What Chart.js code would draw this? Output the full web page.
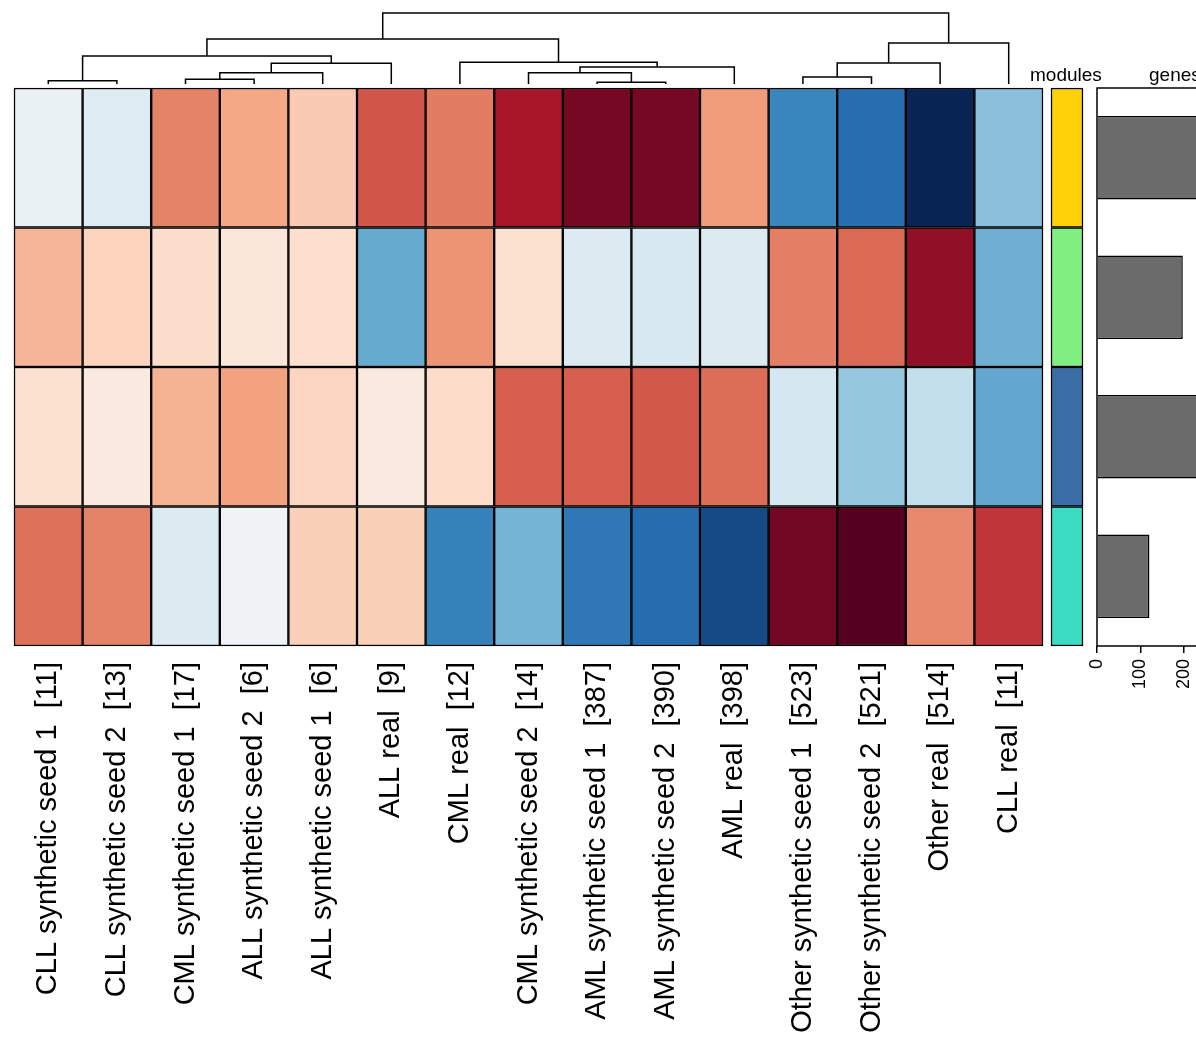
<!DOCTYPE html>
<html>
<head>
<meta charset="utf-8">
<script src="https://cdn.jsdelivr.net/npm/chart.js@4.4.1/dist/chart.umd.min.js"></script>
<style>
    html, body { margin: 0; padding: 0; background: #fff; overflow: hidden; width: 1196px; height: 1053px; }
    canvas { position: absolute; }
    .lbl { position: absolute; font-family: "Liberation Sans", Arial, sans-serif; font-size: 19px; line-height: 19px; color: #000; white-space: nowrap; }
</style>
</head>
<body>
<canvas id="dendro" width="1037" height="88" style="left:10px;top:0px"></canvas>
<canvas id="heat" width="1037" height="969" style="left:10px;top:84px"></canvas>
<canvas id="modules" width="40" height="566" style="left:1047px;top:84px"></canvas>
<canvas id="genes" width="180" height="630" style="left:1077px;top:84px"></canvas>
<div class="lbl" style="left:1030px;top:65px">modules</div>
<div class="lbl" style="left:1149px;top:65px">genes</div>
<script>
// columns in dendrogram order
const sampleNames = [
    "CLL synthetic seed 1", "CLL synthetic seed 2", "CML synthetic seed 1",
    "ALL synthetic seed 2", "ALL synthetic seed 1", "ALL real", "CML real",
    "CML synthetic seed 2", "AML synthetic seed 1", "AML synthetic seed 2",
    "AML real", "Other synthetic seed 1", "Other synthetic seed 2",
    "Other real", "CLL real",
];
const sampleSizes = [11, 13, 17, 6, 6, 9, 12, 14, 387, 390, 398, 523, 521, 514, 11];

// module eigengene values per row (-1 blue .. +1 red)
const module1 = [-0.07, -0.13, 0.5, 0.39, 0.26, 0.63, 0.52, 0.82, 0.93, 0.93, 0.43, -0.66, -0.76, -0.99, -0.42];
const module2 = [0.34, 0.23, 0.18, 0.12, 0.17, -0.51, 0.45, 0.16, -0.14, -0.17, -0.14, 0.51, 0.57, 0.87, -0.49];
const module3 = [0.16, 0.1, 0.35, 0.41, 0.22, 0.1, 0.19, 0.6, 0.6, 0.62, 0.56, -0.18, -0.39, -0.24, -0.52];
const module4 = [0.55, 0.5, -0.14, -0.04, 0.24, 0.24, -0.68, -0.47, -0.72, -0.77, -0.88, 0.94, 1.0, 0.48, 0.72];

const moduleNames = ["gold", "lightgreen", "steelblue", "turquoise"];
const moduleColors = ["#FFD108", "#80EE80", "#3A6CA6", "#3CDCC4"];
const geneCounts = [330, 198, 350, 121];
const geneTicks = [0, 100, 200, 300];

// hclust-style merges: negative = leaf (1-based), positive = earlier merge; height
const merges = [
    [-1, -2, 3.3], [-3, -4, 4.7], [2, -5, 11.3], [3, -6, 20.7], [1, 4, 28],
    [-9, -10, 1.7], [-8, 6, 11.3], [7, -11, 17], [-7, 8, 21.7], [5, 9, 45],
    [-12, -13, 7], [11, -14, 21], [12, -15, 41], [10, 13, 71],
];

const FONT = "'Liberation Sans', Arial, Helvetica, sans-serif";

const paletteStops = [
    [-1.0, "#062050"], [-0.8, "#2166AC"], [-0.6, "#4393C3"], [-0.4, "#92C5DE"], [-0.2, "#D1E5F0"],
    [0, "#F7F7F7"], [0.2, "#FDDBC7"], [0.4, "#F4A582"], [0.6, "#D6604D"], [0.8, "#B2182B"], [1.0, "#560020"],
];

function hexToRgb(h) {
    return [1, 3, 5].map((i) => parseInt(h.slice(i, i + 2), 16));
}

function rdbu(v) {
    v = Math.max(-1, Math.min(1, v));
    for (let i = 1; i < paletteStops.length; i++) {
        const [v1, c1] = paletteStops[i];
        if (v <= v1) {
            const [v0, c0] = paletteStops[i - 1];
            const t = (v - v0) / (v1 - v0);
            const a = hexToRgb(c0), b = hexToRgb(c1);
            const rgb = a.map((x, k) => Math.round(x + (b[k] - x) * t));
            return `rgb(${rgb.join(",")})`;
        }
    }
    return paletteStops[paletteStops.length - 1][1];
}

const moduleRows = [module1, module2, module3, module4];
const sampleLabels = sampleNames.map((n, i) => `${n}  [${sampleSizes[i]}]`);

function noPad(scale) {
    scale.paddingLeft = 0;
    scale.paddingRight = 0;
}

// dendrogram
const dendroSets = [];
const nodePos = [];
merges.forEach(([a, b, h]) => {
    const node = (id) => (id < 0 ? { x: -id - 1, y: 0 } : nodePos[id - 1]);
    const L = node(a), R = node(b);
    dendroSets.push({
        data: [{ x: L.x, y: L.y }, { x: L.x, y: h }, { x: R.x, y: h }, { x: R.x, y: R.y }],
        showLine: true,
        borderColor: "#000",
        borderWidth: 1.5,
        pointRadius: 0,
        clip: false,
    });
    nodePos.push({ x: (L.x + R.x) / 2, y: h });
});

new Chart(document.getElementById("dendro"), {
    type: "scatter",
    data: { datasets: dendroSets },
    options: {
        responsive: false,
        animation: false,
        layout: { padding: { left: 4, right: 4, top: 13, bottom: 4 } },
        plugins: { legend: { display: false }, tooltip: { enabled: false } },
        scales: {
            x: { display: false, min: -0.5, max: 14.5 },
            y: { display: false, min: 0, max: 71 },
        },
    },
});

// heatmap as floating bars
new Chart(document.getElementById("heat"), {
    type: "bar",
    data: {
        labels: sampleLabels,
        datasets: moduleRows.map((row, r) => ({
            data: row.map(() => [r, r + 1]),
            backgroundColor: row.map((v) => rdbu(v)),
            borderColor: "#000",
            borderWidth: 1.5,
            borderSkipped: false,
            barPercentage: 1,
            categoryPercentage: 1,
            grouped: false,
            clip: false,
        })),
    },
    options: {
        responsive: false,
        animation: false,
        layout: { padding: { left: 4, right: 4, top: 4 } },
        plugins: { legend: { display: false }, tooltip: { enabled: false } },
        scales: {
            x: {
                grid: { display: false },
                border: { display: false },
                ticks: {
                    autoSkip: false,
                    minRotation: 90,
                    maxRotation: 90,
                    padding: 8,
                    color: "#000",
                    font: { family: FONT, size: 29 },
                },
                afterFit: (scale) => {
                    scale.height = 407;
                    noPad(scale);
                },
            },
            y: { display: false, min: 0, max: 4, reverse: true },
        },
    },
});

// module colour strip
new Chart(document.getElementById("modules"), {
    type: "bar",
    data: {
        labels: ["modules"],
        datasets: moduleColors.map((c, r) => ({
            label: moduleNames[r],
            data: [[r, r + 1]],
            backgroundColor: c,
            borderColor: "#000",
            borderWidth: 1.5,
            borderSkipped: false,
            barPercentage: 1,
            categoryPercentage: 1,
            grouped: false,
            clip: false,
        })),
    },
    options: {
        responsive: false,
        animation: false,
        layout: { padding: 4 },
        plugins: { legend: { display: false }, tooltip: { enabled: false } },
        scales: {
            x: { display: false },
            y: { display: false, min: 0, max: 4, reverse: true },
        },
    },
});

// genes per module
const boxPlugin = {
    id: "box",
    afterDraw(chart) {
        const { ctx, chartArea: a } = chart;
        ctx.save();
        ctx.strokeStyle = "#000";
        ctx.lineWidth = 1.5;
        ctx.strokeRect(a.left, a.top, a.right - a.left, a.bottom - a.top);
        ctx.restore();
    },
};

new Chart(document.getElementById("genes"), {
    type: "bar",
    data: {
        labels: moduleNames,
        datasets: [{
            data: geneCounts,
            backgroundColor: "#6B6B6B",
            borderColor: "#000",
            borderWidth: 1.5,
            barPercentage: 0.6,
            categoryPercentage: 1,
        }],
    },
    options: {
        indexAxis: "y",
        responsive: false,
        animation: false,
        layout: { padding: { left: 20, right: 4, top: 4 } },
        plugins: { legend: { display: false }, tooltip: { enabled: false } },
        scales: {
            x: {
                min: 0,
                max: 360,
                afterBuildTicks: (scale) => {
                    scale.ticks = geneTicks.map((v) => ({ value: v }));
                },
                grid: { drawOnChartArea: false, drawTicks: true, tickLength: 7, color: "#000", lineWidth: 1.5 },
                border: { display: false },
                ticks: {
                    minRotation: 90,
                    maxRotation: 90,
                    padding: 6,
                    color: "#000",
                    font: { family: FONT, size: 18 },
                },
                afterFit: (scale) => {
                    scale.height = 68;
                    noPad(scale);
                },
            },
            y: { display: false },
        },
    },
    plugins: [boxPlugin],
});
</script>
</body>
</html>
